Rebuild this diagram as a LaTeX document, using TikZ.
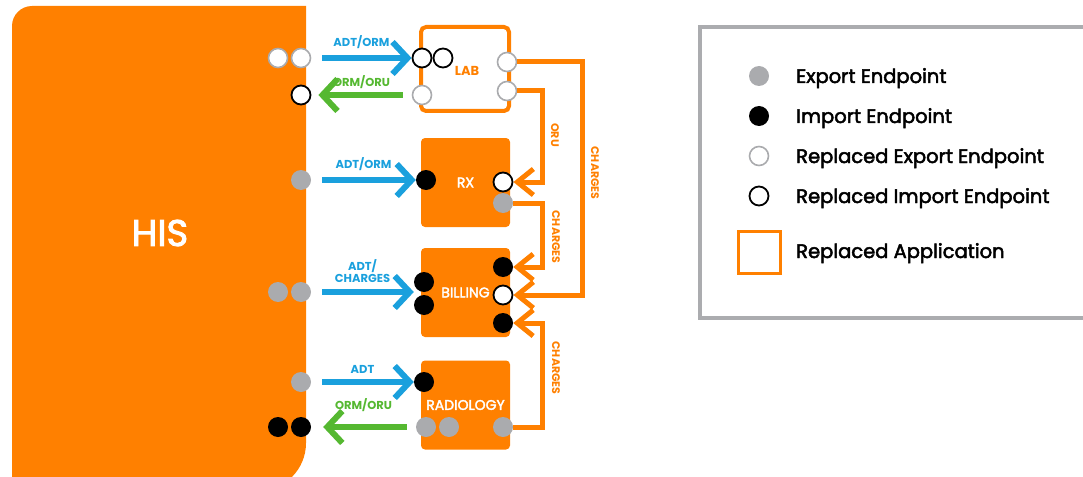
\documentclass[tikz,border=0pt]{standalone}
\usepackage{fontspec}
\setmainfont{Poppins}
\setsansfont{Poppins}
\newfontfamily\mediumfont[FakeBold=2.5]{Poppins}
\usepackage{tikz}
\usetikzlibrary{arrows.meta}
\definecolor{hisOrange}{HTML}{FF8000}
\definecolor{flowBlue}{HTML}{1AA0DD}
\definecolor{flowGreen}{HTML}{55B831}
\definecolor{epGrey}{HTML}{AAABAE}
\definecolor{legendGrey}{HTML}{ABACAF}

\begin{document}
\begin{tikzpicture}[x=1pt, y=-1pt,
    expep/.style={circle, fill=epGrey, minimum size=20pt, inner sep=0pt},
    impep/.style={circle, fill=black, minimum size=20pt, inner sep=0pt},
    rexpep/.style={circle, draw=epGrey, line width=1.6pt, fill=white,
        minimum size=19pt, inner sep=0pt},
    rimpep/.style={circle, draw=black, line width=1.8pt, fill=white,
        minimum size=19pt, inner sep=0pt},
    appbox/.style={rectangle, rounded corners=4pt, fill=hisOrange,
        minimum width=89pt, minimum height=89pt, text=white,
        font=\fontsize{14}{16}\mediumfont},
    replbox/.style={rectangle, rounded corners=5pt, draw=hisOrange,
        line width=4pt, fill=white, minimum width=88pt, minimum height=84pt,
        text=hisOrange, font=\fontsize{13}{15}\selectfont\bfseries},
    toflow/.style={draw=flowBlue, line width=6pt,
        -{Straight Barb[length=15pt, width=32pt]}},
    fromflow/.style={draw=flowGreen, line width=6pt,
        -{Straight Barb[length=15pt, width=32pt]}},
    feed/.style={draw=hisOrange, line width=5pt,
        -{Straight Barb[length=16pt, width=26pt]}},
    flowlabel/.style={font=\fontsize{11.5}{12.5}\selectfont\bfseries,
        text=#1, inner sep=0pt, align=center},
    feedlabel/.style={font=\fontsize{11}{12}\selectfont\bfseries,
        text=hisOrange, rotate=-90, inner sep=0pt},
    legendtext/.style={font=\fontsize{19.5}{22}\mediumfont, anchor=base west,
        inner sep=0pt},
]

\useasboundingbox (0,0) rectangle (1083,476);
\clip (0,0) rectangle (1083,476);

\def\hisA{278}
\def\hisB{301}
\def\colL{424}
\def\colR{503}
\def\busN{542}
\def\busF{582}

% ── HIS ───────────────────────────────────────────────────────────────
\fill[hisOrange] (12,491) -- (12,26) .. controls (12,15) and (21,6) .. (32,6)
    -- (306,6) -- (306,443) .. controls (306,469.5) and (284.5,491) .. (258,491)
    -- cycle;
\node[font=\fontsize{37}{44}\mediumfont, text=white] (his) at (160,233) {HIS};

% ── Applications ──────────────────────────────────────────────────────
\node[replbox] (lab) at (465,69) {};
\node[text=hisOrange, font=\fontsize{13}{15}\selectfont\bfseries]
    (labTxt) at (467,71) {LAB};
\node[appbox]  (rx)  at (465.5,182.5) {RX};
\node[appbox]  (bil) at (465.5,292.5) {BILLING};
\node[appbox]  (rad) at (465.5,405) {RADIOLOGY};

% ── Endpoints ─────────────────────────────────────────────────────────
\node[rexpep] (hisLabOut1) at (\hisA,58) {};
\node[rexpep] (hisLabOut2) at (\hisB,58) {};
\node[rimpep] (hisLabIn)   at (\hisB,95) {};
\node[expep]  (hisRx)      at (\hisB,180) {};
\node[expep]  (hisBil1)    at (\hisA,292) {};
\node[expep]  (hisBil2)    at (\hisB,292) {};
\node[expep]  (hisRad)     at (\hisB,382) {};
\node[impep]  (hisRadIn1)  at (\hisA,427) {};
\node[impep]  (hisRadIn2)  at (\hisB,427) {};

\node[rimpep] (labIn1)  at (422,58) {};
\node[rimpep] (labIn2)  at (443,58) {};
\node[rexpep] (labOut)  at (422,95) {};
\node[rexpep] (labChg)  at (507,62) {};
\node[rexpep] (labOru)  at (507,91) {};

\node[impep]  (rxIn)    at (426,180) {};
\node[rimpep] (rxOru)   at (\colR,182) {};
\node[expep]  (rxChg)   at (\colR,203) {};

\node[impep]  (bilIn1)  at (\colL,282) {};
\node[impep]  (bilIn2)  at (\colL,305) {};
\node[impep]  (bilRx)   at (\colR,267) {};
\node[rimpep] (bilLab)  at (\colR,295) {};
\node[impep]  (bilRad)  at (\colR,323) {};

\node[impep]  (radIn)   at (\colL,382) {};
\node[expep]  (radOut1) at (426,427) {};
\node[expep]  (radOut2) at (449,427) {};
\node[expep]  (radChg)  at (\colR,427) {};

% ── HIS flows ─────────────────────────────────────────────────────────
\draw[toflow, shorten <=11pt] (hisLabOut2) -- (labIn1)
    node[flowlabel=flowBlue, midway, yshift=16pt] {ADT/ORM};
\draw[fromflow, shorten <=9pt, shorten >=7pt] (labOut) -- (hisLabIn)
    node[flowlabel=flowGreen, midway, yshift=13pt] {ORM/ORU};
\draw[toflow, shorten <=11pt] (hisRx) -- (rxIn)
    node[flowlabel=flowBlue, midway, yshift=16pt] {ADT/ORM};
\draw[toflow, shorten <=11pt] (hisBil2) -- (hisBil2 -| bilIn1.west)
    node[flowlabel=flowBlue, midway, yshift=21pt] {ADT/\\CHARGES};
\draw[toflow, shorten <=11pt] (hisRad) -- (radIn)
    node[flowlabel=flowBlue, midway, yshift=13pt] {ADT};
\draw[fromflow, shorten <=9pt, shorten >=12pt] (radOut1) -- (hisRadIn2)
    node[flowlabel=flowGreen, midway, yshift=22pt] {ORM/ORU};

% ── Feeds between applications ────────────────────────────────────────
\draw[feed] (labChg.east) -- (labChg.east -| {(\busF,0)})
    -- (bilLab.east -| {(\busF,0)}) -- (bilLab.east);
\draw[feed] (labOru.east) -- (labOru.east -| {(\busN,0)})
    -- (rxOru.east -| {(\busN,0)}) -- (rxOru.east);
\draw[feed] (rxChg.east) -- (rxChg.east -| {(\busN,0)})
    -- (bilRx.east -| {(\busN,0)}) -- (bilRx.east);
\draw[feed] (radChg.east) -- (radChg.east -| {(\busN,0)})
    -- (bilRad.east -| {(\busN,0)}) -- (bilRad.east);

\node[feedlabel] (oruLbl)  at (555,135) {ORU};
\node[feedlabel] (chgLab)  at (595,173) {CHARGES};
\node[feedlabel] (chgRx)   at (556,237) {CHARGES};
\node[feedlabel] (chgRad)  at (556,368) {CHARGES};

% ── Legend ────────────────────────────────────────────────────────────
\draw[legendGrey, line width=4pt] (1100,27) -- (700,27) -- (700,318) -- (1100,318);

\node[expep]  (keyExp)  at (759,76) {};
\node[impep]  (keyImp)  at (759,116) {};
\node[rexpep] (keyRexp) at (759,156) {};
\node[rimpep] (keyRimp) at (759,196) {};
\node[draw=hisOrange, line width=3pt, minimum size=42pt, inner sep=0pt]
    (keyApp) at (759,252) {};

\node[legendtext] (keyExpTxt)  at (796,83)  {Export Endpoint};
\node[legendtext] (keyImpTxt)  at (796,123) {Import Endpoint};
\node[legendtext] (keyRexpTxt) at (796,163) {Replaced Export Endpoint};
\node[legendtext] (keyRimpTxt) at (796,203) {Replaced Import Endpoint};
\node[legendtext] (keyAppTxt)  at (796,258) {Replaced Application};

\end{tikzpicture}
\end{document}
